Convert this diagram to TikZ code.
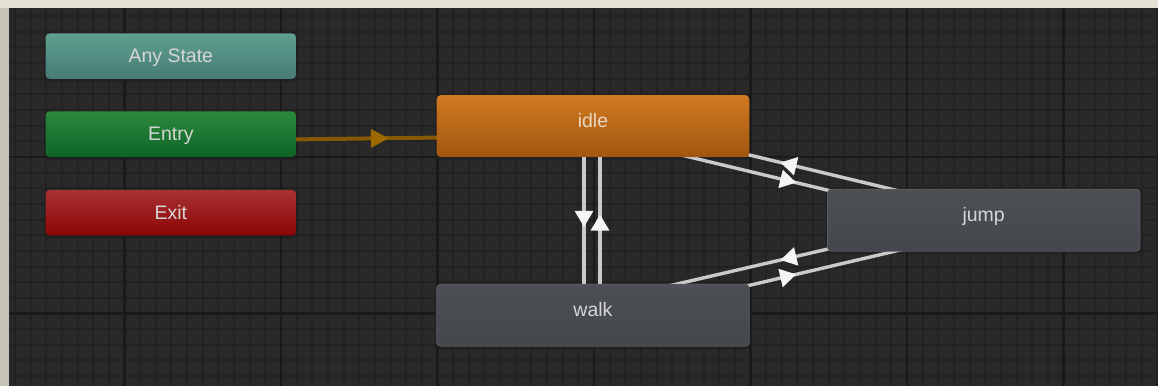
\documentclass[tikz,border=0pt]{standalone}
\usepackage{fontspec}
\setmainfont{Liberation Sans}
\usetikzlibrary{decorations.markings}
\definecolor{paper}{HTML}{E4E0D4}
\definecolor{paperleft}{HTML}{C6C2B6}
\definecolor{canvasbg}{HTML}{292929}
\definecolor{gridminor}{HTML}{222222}
\definecolor{gridmajor}{HTML}{1A1A1A}
\definecolor{anytop}{HTML}{5FA08F}
\definecolor{anybot}{HTML}{467A76}
\definecolor{entrytop}{HTML}{2B8A3C}
\definecolor{entrybot}{HTML}{0E6427}
\definecolor{exittop}{HTML}{A83232}
\definecolor{exitbot}{HTML}{8C0404}
\definecolor{idletop}{HTML}{D17A22}
\definecolor{idlebot}{HTML}{A0560F}
\definecolor{greytop}{HTML}{4C4F54}
\definecolor{greybot}{HTML}{44474B}
\definecolor{greyedge}{HTML}{5A5D62}
\definecolor{transcol}{HTML}{CACACA}
\definecolor{tipcol}{HTML}{F4F4F4}
\definecolor{entrycol}{HTML}{855A05}
\definecolor{entrytip}{HTML}{9C6A00}
\definecolor{labelcol}{HTML}{D6D6D6}
\definecolor{idlelabel}{HTML}{EAD6BE}
\definecolor{shadowcol}{HTML}{1E1E1E}
\pgfdeclarelayer{gridlayer}
\pgfdeclarelayer{linelayer}
\pgfsetlayers{gridlayer,linelayer,main}
\begin{document}
\begin{tikzpicture}[x=0.5pt,y=-0.5pt,
  statebase/.style={rounded corners=2pt, inner sep=0pt, text=labelcol,
    font=\fontsize{9.75}{12}\selectfont},
  smallstate/.style={statebase, minimum width=125.2pt, minimum height=22.75pt,
    text height=7pt, text depth=0.5pt},
  bigstate/.style={statebase, minimum width=156.3pt, minimum height=31pt,
    text height=7pt, text depth=6pt},
  greystate/.style={bigstate, top color=greytop, bottom color=greybot, draw=greyedge, line width=0.4pt},
  trans/.style={draw=transcol, line width=1.7pt},
  tarrow/.style={decoration={markings, mark=at position #1 with {\fill[tipcol] (8,0) -- (-8,9.5) -- (-8,-9.5) -- cycle;}}, postaction=decorate},
  entryline/.style={draw=entrycol, line width=2pt},
  earrow/.style={decoration={markings, mark=at position #1 with {\fill[entrytip] (8.8,0) -- (-8.8,9.5) -- (-8.8,-9.5) -- cycle;}}, postaction=decorate},
  minorline/.style={draw=gridminor, line width=1pt},
  majorline/.style={draw=gridmajor, line width=1.1pt}
]
\useasboundingbox (0,0) rectangle (1158,386);
\begin{pgfonlayer}{gridlayer}
  \fill[paper] (0,0) rectangle (1158,386);
  \fill[paperleft] (0,7.5) rectangle (9,386);
  \fill[canvasbg] (9,7.5) rectangle (1158,386);
  \begin{scope}
    \clip (9.5,8.5) rectangle (1158,386);
    \foreach \i in {0,...,73} { \draw[minorline] ({14.95+\i*15.65},0) -- ({14.95+\i*15.65},386); }
    \foreach \i in {1,...,25} { \draw[minorline] (0,{0.5+\i*15.65}) -- (1158,{0.5+\i*15.65}); }
    \foreach \i in {0,...,6} { \draw[majorline] ({124.5+\i*156.5},0) -- ({124.5+\i*156.5},386); }
    \foreach \i in {1,2} { \draw[majorline] (0,{0.5+\i*156.5}) -- (1158,{0.5+\i*156.5}); }
  \end{scope}
  % soft shadows under the states
  \foreach \cx/\cy/\w/\h in {170.8/56.2/250.4/45.5, 170.8/134.2/250.4/45.5, 170.8/212.7/250.4/45.5,
                              593/126.2/312.6/62, 593/315.2/312.6/62, 983.7/220.2/312.6/62}
    { \fill[shadowcol, rounded corners=2.5pt, opacity=0.7]
        ({\cx-\w/2-1.5},{\cy-\h/2+1}) rectangle ({\cx+\w/2+1.5},{\cy+\h/2+3}); }
\end{pgfonlayer}

\node[smallstate, top color=anytop, bottom color=anybot] (any) at (170.8,56.2) {Any State};
\node[smallstate, top color=entrytop, bottom color=entrybot] (entry) at (170.8,134.2) {Entry};
\node[smallstate, top color=exittop, bottom color=exitbot] (exit) at (170.8,212.7) {Exit};
\node[bigstate, top color=idletop, bottom color=idlebot, text=idlelabel] (idle) at (593,126.2) {idle};
\node[greystate] (walk) at (593,315.2) {walk};
\node[greystate] (jump) at (983.7,220.2) {jump};

\begin{pgfonlayer}{linelayer}
  \draw[entryline, earrow=0.495] ([shift={(0,6.8)}]entry.center) -- ([shift={(0,9.4)}]idle.center);
  \draw[trans, tarrow=0.49] ([shift={(-9,0)}]idle.center) -- ([shift={(-9,0)}]walk.center);
  \draw[trans, tarrow=0.49] ([shift={(7,0)}]walk.center) -- ([shift={(7,0)}]idle.center);
  \draw[trans, tarrow=0.5] ([shift={(0,-8.9)}]jump.center) -- ([shift={(0,-8.8)}]idle.center);
  \draw[trans, tarrow=0.5] ([shift={(0,7.6)}]idle.center) -- ([shift={(0,7.5)}]jump.center);
  \draw[trans, tarrow=0.5] ([shift={(0,-7.3)}]jump.center) -- ([shift={(0,-11.7)}]walk.center);
  \draw[trans, tarrow=0.5] ([shift={(0,6.8)}]walk.center) -- ([shift={(0,10.2)}]jump.center);
\end{pgfonlayer}
\end{tikzpicture}
\end{document}
